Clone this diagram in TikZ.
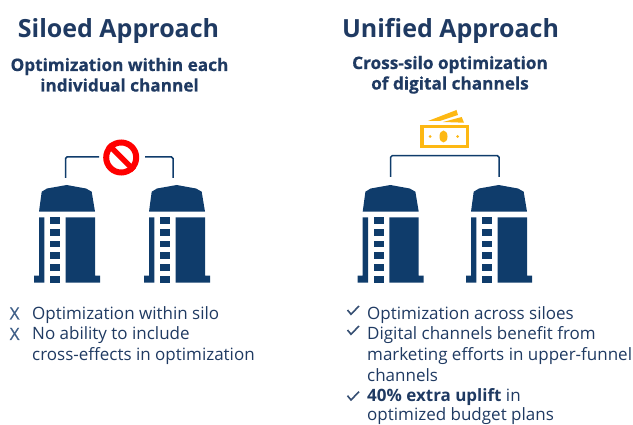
\documentclass[tikz,border=0pt]{standalone}
\usepackage{fontspec}
\setmainfont{Open Sans}
\newfontfamily\heavyfont[BoldFeatures={FakeBold=0.6}]{Open Sans}
\newfontfamily\xfont[FakeBold=0.5]{Open Sans}
\definecolor{navy}{HTML}{0F3C6B}
\definecolor{txt}{HTML}{1F3A62}
\definecolor{xmark}{HTML}{3F5F88}
\definecolor{gold}{HTML}{FDB813}
\tikzset{
 link/.style={draw=navy,line width=1.5pt,rounded corners=1.5pt},
 titletxt/.style={text=txt,font=\bfseries\fontsize{25}{28}\selectfont,inner sep=0pt,anchor=base},
 subtxt/.style={text=txt,font=\heavyfont\bfseries\fontsize{17.2}{20.5}\selectfont,inner sep=0pt,align=center},
 bodytxt/.style={text=txt,font=\fontsize{17}{21}\selectfont,inner sep=0pt,anchor=base west},
 xtxt/.style={bodytxt,text=xmark,font=\xfont\fontsize{17}{21}\selectfont},
 tick/.style={draw=txt!90,line width=1.6pt},
 silo/.pic={
  \fill[navy] (39,211.7) -- (41.7,191.7) -- (47,188.5) -- (66.7,185) -- (86,188.5) -- (91.7,191.7) -- (95,211.7) -- cycle;
  \fill[navy] (39,217.3) -- (44.3,217.3) -- (44.3,282.7) -- (34,282.7) -- (34,275.7) -- (39,275.7) -- cycle;
  \fill[navy] (65.7,217.3) -- (95,217.3) -- (95,275.7) -- (100,275.7) -- (100,282.7) -- (65.7,282.7) -- cycle;
  \foreach \yy in {217.3,229,240.8,252.4,264,276}{\fill[navy] (50.3,\yy) rectangle (60,\yy+6.7);}
 }
}
\begin{document}
\begin{tikzpicture}[x=1pt,y=-1pt]
\useasboundingbox (0,0) rectangle (633,425);
\node[titletxt] (t1) at (118.5,37.5) {Siloed Approach};
\node[titletxt] (t2) at (450.5,37.5) {Unified Approach};
\node[subtxt] (s1) at (119.5,74.8) {Optimization within each\\individual channel};
\node[subtxt] (s2) at (450,74.8) {Cross-silo optimization\\of digital channels};
\pic at (0,0) {silo};
\pic at (110,0) {silo};
\pic at (323.7,0) {silo};
\pic at (432,0) {silo};
\coordinate (la) at (65.5,178);
\coordinate (lb) at (99,157);
\coordinate (lc) at (145,157);
\coordinate (ld) at (173,178);
\draw[link] (la) |- (lb);
\draw[link] (lc) -| (ld);
\coordinate (ra) at (390.7,177);
\coordinate (rb) at (499,177);
\draw[link] (ra) |- (445,155.7) -| (rb);
% prohibition sign
\node[circle,draw=red,fill=white,line width=6pt,minimum size=30pt,inner sep=0pt] (no) at (121.2,157.5) {};
\draw[red,line width=5.5pt] (no.north west) -- (no.south east);
% money
\fill[gold] (420,125) rectangle (469,148.5);
\fill[white] (423.5,128.5) rectangle (465.5,145);
\fill[gold] (443.5,136.5) ellipse (4 and 6);
\fill[gold] (430,136.5) circle (1.5);
\fill[gold] (457.7,136.5) circle (1.5);
\fill[gold] (428,121) -- (456.5,110) -- (458,115) -- (440,121) -- cycle;
\fill[gold] (443,122) -- (461.7,117) -- (464,122.7) -- cycle;
% left list
\node[xtxt] (x1) at (9.5,319.5) {X};
\node[xtxt] (x2) at (9.5,340) {X};
\node[bodytxt] (l1) at (32,319.5) {Optimization within silo};
\node[bodytxt] (l2) at (32,340) {No ability to include};
\node[bodytxt] (l3) at (32,360) {cross-effects in optimization};
% right list
\foreach \yy in {0,20,85.7}{\draw[tick] (347.5,310+\yy) -- (351,314.3+\yy) -- (359,306+\yy);}
\node[bodytxt] (r1) at (367,319.5) {Optimization across siloes};
\node[bodytxt] (r2) at (367,340) {Digital channels benefit from};
\node[bodytxt] (r3) at (367,360) {marketing efforts in upper-funnel};
\node[bodytxt] (r4) at (367,381.5) {channels};
\node[bodytxt] (r5) at (367,401.5) {\textbf{40\% extra uplift} in};
\node[bodytxt] (r6) at (367,420.8) {optimized budget plans};
\end{tikzpicture}
\end{document}
